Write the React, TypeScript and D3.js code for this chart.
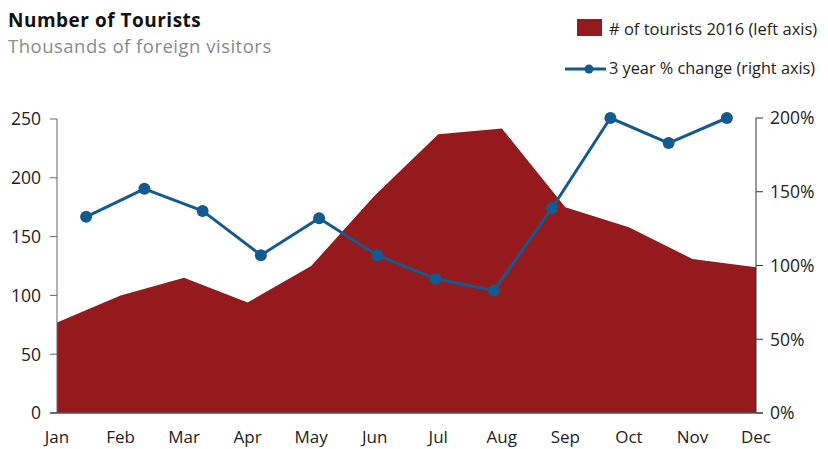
import React from "react";
import * as d3 from "d3";

const months = ["Jan", "Feb", "Mar", "Apr", "May", "Jun", "Jul", "Aug", "Sep", "Oct", "Nov", "Dec"];
const tourists = [77, 100, 115, 94, 125, 185, 237, 242, 175, 158, 131, 124];
const pctChange = [1.33, 1.52, 1.37, 1.07, 1.32, 1.07, 0.91, 0.83, 1.39, 2.0, 1.83, 2.0];
const leftTicks = [0, 50, 100, 150, 200, 250];
const rightTicks = [0, 0.5, 1, 1.5, 2];

const FONT = "'Open Sans', sans-serif";
const RED = "#941a1e";
const BLUE = "#145a8e";

export default function App() {
  const W = 828, H = 449;
  const x0 = 57, x1 = 756, yb = 413;
  const xPoint = d3.scalePoint<string>().domain(months).range([x0, x1]);
  const xBand = d3.scaleBand<string>().domain(months).range([x0, x1]).padding(0);
  const yL = d3.scaleLinear().domain([0, 250]).range([yb, 119]);
  const yR = d3.scaleLinear().domain([0, 2]).range([yb, 118]);

  const data = months.map((m, i) => ({ m, t: tourists[i], p: pctChange[i] }));
  const areaGen = d3.area<any>().x(d => xPoint(d.m)!).y0(yL(0)).y1(d => yL(d.t));
  const lineGen = d3.line<any>().x(d => xBand(d.m)! + xBand.bandwidth() / 2).y(d => yR(d.p));
  const pctFmt = d3.format(".0%");

  return (
    <svg width={W} height={H} style={{ position: "absolute", left: 0, top: 0, background: "#fff" }} fontFamily={FONT}>
      <text x={8} y={27} fontSize={19} fontWeight={700} letterSpacing={0.5} fill="#111">Number of Tourists</text>
      <text x={8} y={53} fontSize={18.5} letterSpacing={0.5} fill="#8a8a8a">Thousands of foreign visitors</text>

      {/* legend */}
      <rect x={577} y={19} width={25} height={17} fill={RED} />
      <text x={609} y={35} fontSize={16.5} fill="#222">{"# of tourists 2016 (left axis)"}</text>
      <line x1={565} x2={606} y1={69} y2={69} stroke={BLUE} strokeWidth={3} />
      <circle cx={589} cy={69} r={4.5} fill={BLUE} />
      <text x={609} y={74} fontSize={16.3} fill="#222">{"3 year % change (right axis)"}</text>

      <path d={areaGen(data)!} fill={RED} />

      {/* left axis */}
      <line x1={x0} x2={x0} y1={yL(250)} y2={yb} stroke="#666" strokeWidth={1} />
      {leftTicks.map(t => (
        <g key={"l" + t}>
          <line x1={x0 - 7} x2={x0} y1={yL(t)} y2={yL(t)} stroke="#666" strokeWidth={1} />
          <text x={41} y={yL(t)} dy="0.36em" textAnchor="end" fontSize={17.5} fill="#222">{t}</text>
        </g>
      ))}
      {/* right axis */}
      <line x1={x1} x2={x1} y1={yR(2)} y2={yb} stroke="#333" strokeWidth={1} />
      {rightTicks.map(t => (
        <g key={"r" + t}>
          <line x1={x1} x2={x1 + 7} y1={yR(t)} y2={yR(t)} stroke="#333" strokeWidth={1} />
          <text x={770} y={yR(t)} dy="0.36em" textAnchor="start" fontSize={17.5} fill="#222">{pctFmt(t)}</text>
        </g>
      ))}
      {/* bottom axis */}
      <line x1={x0 - 7} x2={x1 + 7} y1={yb} y2={yb} stroke="#555" strokeWidth={1.5} />
      {months.map(m => (
        <text key={m} x={xPoint(m)!} y={443} textAnchor="middle" fontSize={17} fill="#222">{m}</text>
      ))}

      <path d={lineGen(data)!} fill="none" stroke={BLUE} strokeWidth={3} strokeLinejoin="round" />
      {data.map(d => (
        <circle key={"c" + d.m} cx={xBand(d.m)! + xBand.bandwidth() / 2} cy={yR(d.p)} r={6} fill={BLUE} />
      ))}
    </svg>
  );
}
